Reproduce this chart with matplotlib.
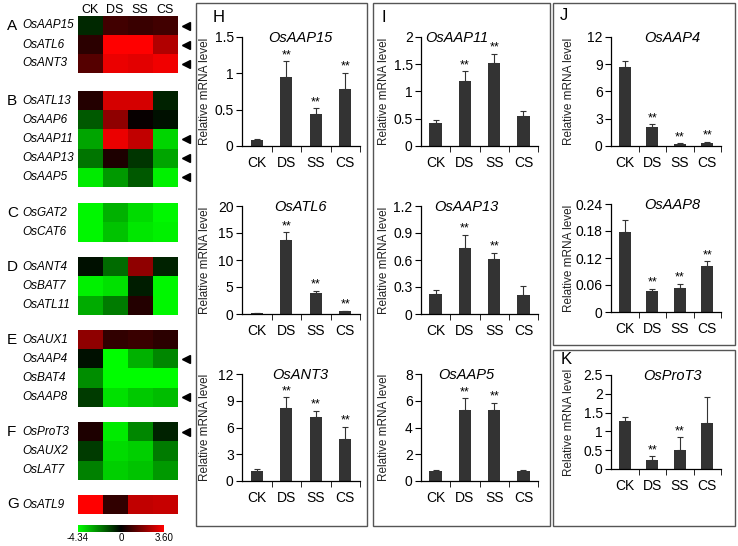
import numpy as np
import matplotlib.pyplot as plt
from matplotlib.colors import LinearSegmentedColormap, TwoSlopeNorm
from matplotlib.patches import Rectangle
from matplotlib import transforms
from matplotlib.ticker import FormatStrFormatter

plt.rcParams['font.family'] = ['Liberation Sans', 'DejaVu Sans']

conds = ['CK', 'DS', 'SS', 'CS']

# heatmap values (log2 ratio), one list per group
genes_A = ['OsAAP15', 'OsATL6', 'OsANT3']
heat_A = [[-0.7, 0.9, 0.8, 0.9], [0.6, 3.6, 3.6, 2.5], [1.2, 3.3, 3.2, 3.4]]
genes_B = ['OsATL13', 'OsAAP6', 'OsAAP11', 'OsAAP13', 'OsAAP5']
heat_B = [[0.5, 3.0, 3.0, -0.6], [-1.5, 2.0, 0.1, -0.3], [-2.8, 3.3, 2.7, -3.6],
          [-2.0, 0.4, -0.9, -2.8], [-4.0, -2.6, -1.5, -4.1]]
genes_C = ['OsGAT2', 'OsCAT6']
heat_C = [[-4.2, -3.0, -3.7, -4.2], [-4.2, -3.3, -3.9, -4.1]]
genes_D = ['OsANT4', 'OsBAT7', 'OsATL11']
heat_D = [[-0.3, -1.8, 2.0, -0.6], [-4.1, -3.8, -0.5, -4.2], [-2.9, -2.1, 0.5, -4.2]]
genes_E = ['OsAUX1', 'OsAAP4', 'OsBAT4', 'OsAAP8']
heat_E = [[2.0, 0.7, 0.8, 0.6], [-0.3, -4.3, -3.0, -2.3], [-2.4, -4.3, -4.3, -4.3],
          [-1.0, -3.8, -3.4, -3.2]]
genes_F = ['OsProT3', 'OsAUX2', 'OsLAT7']
heat_F = [[0.4, -4.0, -2.3, -0.6], [-1.0, -3.7, -3.5, -2.1], [-2.2, -3.5, -3.3, -2.6]]
genes_G = ['OsATL9']
heat_G = [[3.6, 0.7, 2.7, 2.8]]
marked = ['OsAAP15', 'OsATL6', 'OsANT3', 'OsAAP11', 'OsAAP13', 'OsAAP5',
          'OsAAP4', 'OsAAP8', 'OsProT3']
vmin, vmax = -4.34, 3.60

# qRT-PCR relative mRNA level, error bars and significance
aap15 = [0.08, 0.95, 0.44, 0.79]; aap15_err = [0.01, 0.22, 0.08, 0.22]; aap15_sig = [0, 1, 1, 1]
atl6 = [0.1, 13.7, 3.8, 0.5]; atl6_err = [0.0, 1.4, 0.5, 0.1]; atl6_sig = [0, 1, 1, 1]
ant3 = [1.1, 8.2, 7.2, 4.7]; ant3_err = [0.2, 1.2, 0.7, 1.4]; ant3_sig = [0, 1, 1, 1]
aap11 = [0.42, 1.2, 1.52, 0.55]; aap11_err = [0.05, 0.17, 0.17, 0.1]; aap11_sig = [0, 1, 1, 0]
aap13 = [0.22, 0.73, 0.61, 0.21]; aap13_err = [0.05, 0.15, 0.07, 0.1]; aap13_sig = [0, 1, 1, 0]
aap5 = [0.75, 5.3, 5.3, 0.75]; aap5_err = [0.05, 0.9, 0.55, 0.1]; aap5_sig = [0, 1, 1, 0]
aap4 = [8.7, 2.1, 0.25, 0.3]; aap4_err = [0.7, 0.3, 0.05, 0.15]; aap4_sig = [0, 1, 1, 1]
aap8 = [0.178, 0.047, 0.054, 0.102]; aap8_err = [0.027, 0.005, 0.009, 0.011]; aap8_sig = [0, 1, 1, 1]
prot3 = [1.27, 0.24, 0.5, 1.22]; prot3_err = [0.12, 0.1, 0.35, 0.7]; prot3_sig = [0, 1, 1, 0]

W, H = 738, 546
fig = plt.figure(figsize=(W / 100, H / 100), dpi=100)


def px_axes(l, t, r, b):
    return fig.add_axes([l / W, 1 - b / H, (r - l) / W, (b - t) / H])


def box(l, t, r, b):
    fig.patches.append(Rectangle((l / W, 1 - b / H), (r - l) / W, (b - t) / H,
                                 transform=fig.transFigure, fill=False,
                                 edgecolor='#555555', lw=1.0))


# ---- heatmap
cmap = LinearSegmentedColormap.from_list('gkr', ['#00ff00', '#000000', '#ff0000'])
norm = TwoSlopeNorm(vcenter=0, vmin=vmin, vmax=vmax)

groups = [('A', genes_A, heat_A, 16, 73), ('B', genes_B, heat_B, 91, 187),
          ('C', genes_C, heat_C, 203, 242), ('D', genes_D, heat_D, 257, 315),
          ('E', genes_E, heat_E, 330, 407), ('F', genes_F, heat_F, 422, 480),
          ('G', genes_G, heat_G, 495, 514)]

for letter, genes, vals, top, bot in groups:
    ax = px_axes(78, top, 177, bot)
    ax.imshow(np.array(vals), cmap=cmap, norm=norm, aspect='auto',
              interpolation='nearest')
    ax.set_xticks([]); ax.set_yticks([])
    for s in ax.spines.values():
        s.set_visible(False)
    tr = transforms.blended_transform_factory(fig.transFigure, ax.transData)
    for i, g in enumerate(genes):
        ax.text(22 / W, i, g, transform=tr, ha='left', va='center',
                fontsize=8.5, style='italic')
        if g in marked:
            ax.plot(186 / W, i, marker='<', color='black', markersize=6,
                    transform=tr, clip_on=False)
    ax.text(7 / W, 0, letter, transform=tr, ha='left', va='center', fontsize=11)

for j, c in enumerate(conds):
    fig.text((78 + 24.75 * (j + 0.5)) / W, 1 - 10 / H, c, ha='center',
             va='center', fontsize=9)

cax = px_axes(78, 525, 164, 532)
cb = fig.colorbar(plt.cm.ScalarMappable(norm=norm, cmap=cmap), cax=cax,
                  orientation='horizontal')
cb.outline.set_visible(False)
cb.set_ticks([vmin, 0, vmax])
cb.set_ticklabels(['-4.34', '0', '3.60'])
cax.tick_params(length=0, labelsize=7, pad=1)


# ---- bar charts
def bar_panel(l, r, t, b, title, vals, errs, sig, ymax, step, title_x, lab_x):
    ax = px_axes(l, t, r, b)
    x = np.arange(4)
    ax.bar(x, vals, 0.42, color='#333333',
           yerr=[np.zeros(4), errs],
           error_kw=dict(ecolor='#333333', elinewidth=0.8, capsize=2, capthick=0.8))
    ax.set_xlim(-0.5, 3.5)
    ax.set_ylim(0, ymax)
    ax.set_yticks(np.arange(0, ymax + step / 2, step))
    ax.yaxis.set_major_formatter(FormatStrFormatter('%g'))
    ax.set_xticks(x, conds)
    ax.set_xticks([0.5, 1.5, 2.5, 3.5], minor=True)
    ax.tick_params(axis='x', which='major', length=0, pad=7, labelsize=10)
    ax.tick_params(axis='x', which='minor', length=4, direction='out')
    ax.tick_params(axis='y', length=4, direction='out', labelsize=10, pad=2)
    for s in ['top', 'right']:
        ax.spines[s].set_visible(False)
    for s in ['left', 'bottom']:
        ax.spines[s].set_linewidth(0.9)
    for i in range(4):
        if sig[i]:
            ax.text(i, vals[i] + errs[i], '**', ha='center',
                    va='bottom', fontsize=9)
    fig.text(title_x / W, 1 - (t + 1) / H, title, ha='center', va='center',
             fontsize=10.5, style='italic')
    fig.text(lab_x / W, 1 - (t + b) / 2 / H, 'Relative mRNA level',
             rotation=90, ha='center', va='center', fontsize=8.5, color='#222222')
    return ax


rows = [(37, 146), (206, 314), (374, 481)]

box(196, 3, 367, 526)
bar_panel(242, 360, *rows[0], 'OsAAP15', aap15, aap15_err, aap15_sig, 1.5, 0.5, 300, 205)
bar_panel(242, 360, *rows[1], 'OsATL6', atl6, atl6_err, atl6_sig, 20, 5, 300, 205)
bar_panel(242, 360, *rows[2], 'OsANT3', ant3, ant3_err, ant3_sig, 12, 3, 300, 205)
fig.text(219 / W, 1 - 17 / H, 'H', ha='center', va='center', fontsize=12)

box(373, 3, 550, 526)
bar_panel(421, 538, *rows[0], 'OsAAP11', aap11, aap11_err, aap11_sig, 2, 0.5, 457, 384)
bar_panel(421, 538, *rows[1], 'OsAAP13', aap13, aap13_err, aap13_sig, 1.2, 0.3, 466, 384)
bar_panel(421, 538, *rows[2], 'OsAAP5', aap5, aap5_err, aap5_sig, 8, 2, 466, 384)
fig.text(384 / W, 1 - 17 / H, 'I', ha='center', va='center', fontsize=12)

box(553, 3, 735, 345)
bar_panel(611, 721, 37, 146, 'OsAAP4', aap4, aap4_err, aap4_sig, 12, 3, 672, 569)
bar_panel(611, 721, 204, 312, 'OsAAP8', aap8, aap8_err, aap8_sig, 0.24, 0.06, 672, 569)
fig.text(564 / W, 1 - 16 / H, 'J', ha='center', va='center', fontsize=12)

box(553, 350, 735, 526)
bar_panel(611, 721, 375, 469, 'OsProT3', prot3, prot3_err, prot3_sig, 2.5, 0.5, 672, 569)
fig.text(566 / W, 1 - 360 / H, 'K', ha='center', va='center', fontsize=12)

fig.savefig('out.png', dpi=100)
